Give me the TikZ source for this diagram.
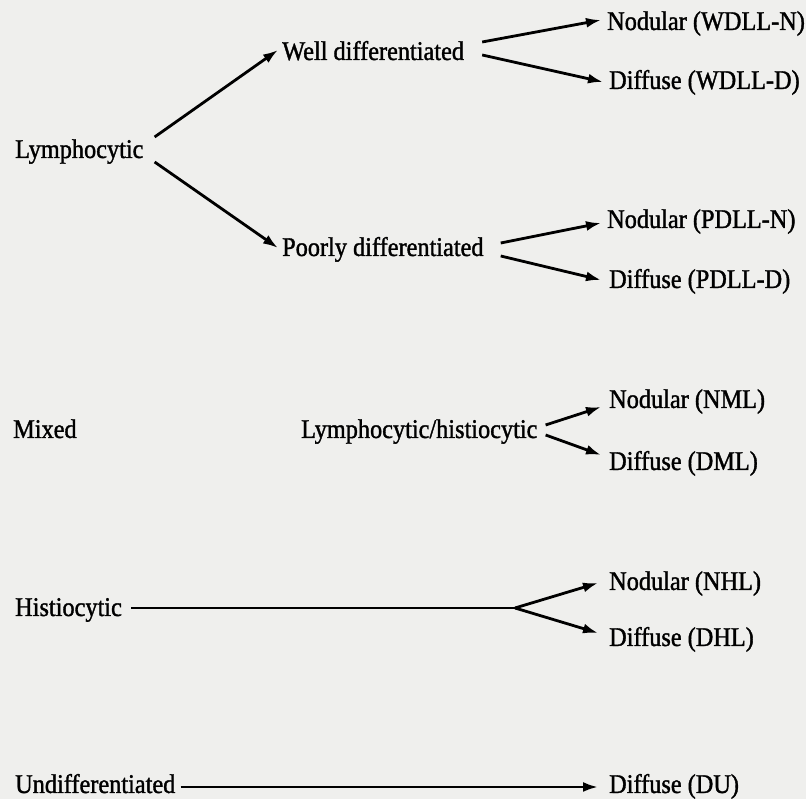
\documentclass[tikz,border=0pt]{standalone}
\usepackage{fontspec}
\setmainfont[FakeStretch=0.9,FakeBold=1.3]{Liberation Serif}
\usepackage{xcolor}
\usetikzlibrary{arrows.meta}
\definecolor{paper}{RGB}{239,239,237}

\begin{document}
\begin{tikzpicture}[x=1pt,y=1pt,
    lbl/.style={anchor=west, inner sep=0pt, text height=18pt, text depth=0pt,
      font=\fontsize{27}{30}\selectfont},
    arr/.style={line width=2.8pt, -{Latex[length=15pt,width=10pt]}},
    bar/.style={line width=2.5pt}]
            \fill [paper] (0,0) rectangle (806,799);
            % lymphocytic
            \node [lbl] (lym) at (15,650) {Lymphocytic};
            \node [lbl] (well) at (282,748) {Well differentiated};
            \node [lbl] (poor) at (282,552) {Poorly differentiated};
            \node [lbl] (wdlln) at (607,778) {Nodular (WDLL-N)};
            \node [lbl] (wdlld) at (609,719) {Diffuse (WDLL-D)};
            \node [lbl] (pdlln) at (607,580) {Nodular (PDLL-N)};
            \node [lbl] (pdlld) at (609,520) {Diffuse (PDLL-D)};
            \draw [arr] ([shift={(11,12)}]lym.east) -- ([shift={(-4,1)}]well.west);
            \draw [arr] ([shift={(11,-13)}]lym.east) -- ([shift={(-4,-1)}]poor.west);
            \draw [arr] ([shift={(18,9)}]well.east) -- ([shift={(-6,1)}]wdlln.west);
            \draw [arr] ([shift={(18,-4)}]well.east) -- ([shift={(-6,-2)}]wdlld.west);
            \draw [arr] ([shift={(17,4)}]poor.east) -- ([shift={(-6,-4)}]pdlln.west);
            \draw [arr] ([shift={(17,-9)}]poor.east) -- ([shift={(-8,-1)}]pdlld.west);
            % mixed
            \node [lbl] (mixed) at (13,370) {Mixed};
            \node [lbl] (lymhis) at (301,370) {Lymphocytic/histiocytic};
            \node [lbl] (nml) at (609,400) {Nodular (NML)};
            \node [lbl] (dml) at (609,338) {Diffuse (DML)};
            \draw [arr] ([shift={(8,4)}]lymhis.east) -- ([shift={(-8,-8)}]nml.west);
            \draw [arr] ([shift={(8,-6)}]lymhis.east) -- ([shift={(-8,6)}]dml.west);
            % histiocytic
            \node [lbl] (his) at (15,192) {Histiocytic};
            \node [lbl] (nhl) at (609,218) {Nodular (NHL)};
            \node [lbl] (dhl) at (609,162) {Diffuse (DHL)};
            \coordinate (hfork) at (515,191);
            \draw [bar] ([shift={(9,-1)}]his.east) -- (hfork);
            \draw [arr] (hfork) -- ([shift={(-11,-2)}]nhl.west);
            \draw [arr] (hfork) -- ([shift={(-11,4)}]dhl.west);
            % undifferentiated
            \node [lbl] (undiff) at (15,15) {Undifferentiated};
            \node [lbl] (du) at (609,15) {Diffuse (DU)};
            \draw [arr] ([shift={(5,-3)}]undiff.east) -- ([shift={(-11,-3)}]du.west);
        \end{tikzpicture}
\end{document}
